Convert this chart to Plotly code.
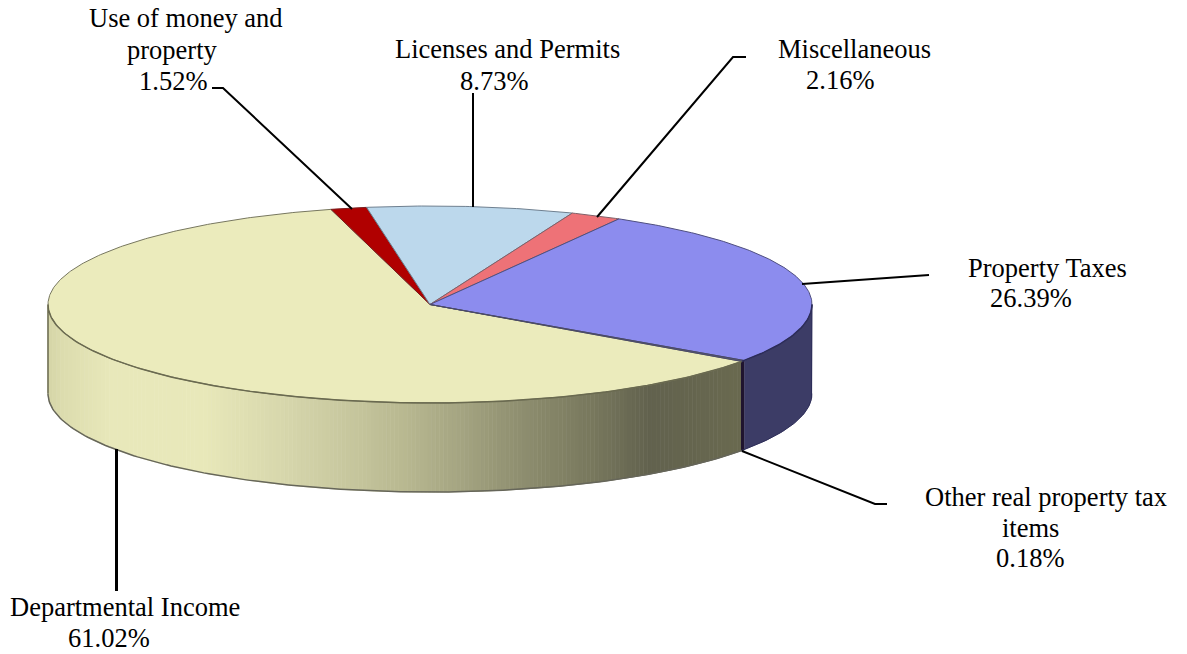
import numpy as np
import plotly.graph_objects as go

# ---- data ----
categories = ["Departmental Income", "Use of money and property", "Licenses and Permits",
              "Miscellaneous", "Property Taxes", "Other real property tax items"]
values = [61.02, 1.52, 8.73, 2.16, 26.39, 0.18]
top_colors = ["#ebebbc", "#b00000", "#bcd8ec", "#ee7277", "#8c8cee", "#5a5a80"]
edge_colors = ["#77775f", "#7a2020", "#6f8090", "#806068", "#4f4f80", "#4a4a66"]
wall_colors = ["#ebebbc", "#700000", "#7a8a96", "#8a4a4c", "#3c3c66", "#201530"]

# wall shading of the largest slice, by horizontal position (0 = left edge, 1 = its right end)
shade_pos = [0.00, 0.02, 0.09, 0.22, 0.36, 0.507, 0.594, 0.68, 0.795, 0.867, 1.00]
shade_rgb = [(214, 214, 168), (220, 220, 174), (232, 232, 186), (233, 233, 186), (212, 212, 170),
             (186, 186, 146), (165, 165, 130), (143, 143, 112), (118, 118, 92), (98, 98, 78),
             (106, 106, 80)]

# text lines: (text, centre x, centre y)
label_lines = [
    ("Use of money and", 186, 18), ("property", 172, 50), ("1.52%", 173, 81),
    ("Licenses and Permits", 507, 49), ("8.73%", 494, 81),
    ("Miscellaneous", 854, 49), ("2.16%", 840, 80),
    ("Property Taxes", 1047.5, 268), ("26.39%", 1031, 298),
    ("Other real property tax", 1046, 497), ("items", 1030, 528), ("0.18%", 1030, 558),
    ("Departmental Income", 125, 607), ("61.02%", 109, 638),
]
# leader lines
leaders_x = [[212, 223, 352], [473, 473], [746, 733, 597], [929, 802], [887, 875, 742], [116.5, 116.5]]
leaders_y = [[88, 88, 209], [93, 207], [57, 57, 217], [275, 284], [504, 504, 451], [591, 449]]
leaders_w = [2, 2, 2, 2, 2, 3]

# ---- pie geometry ----
CX, CY, RX, RY, DEPTH = 430, 304.5, 382, 98.5, 89
START = 35.3  # degrees, clockwise on screen from the right


def ex(a):
    return CX + RX * np.cos(np.radians(a))


def ey(a):
    return CY + RY * np.sin(np.radians(a))


fig = go.Figure()


def poly(xs, ys, fill, line=None, w=1.0):
    fig.add_trace(go.Scatter(x=list(xs), y=list(ys), mode="lines", fill="toself", fillcolor=fill,
                             line=dict(color=line or fill, width=w), hoverinfo="skip", showlegend=False))


def curve(xs, ys, color, w):
    fig.add_trace(go.Scatter(x=list(xs), y=list(ys), mode="lines", line=dict(color=color, width=w),
                             hoverinfo="skip", showlegend=False))


fracs = np.array(values) / sum(values) * 360
starts = START + np.concatenate([[0], np.cumsum(fracs)[:-1]])
ends = starts + fracs


def shade(x, x0, x1):
    t = (x - x0) / (x1 - x0)
    c = [np.interp(t, shade_pos, [s[k] for s in shade_rgb]) for k in range(3)]
    return "rgb(%d,%d,%d)" % tuple(c)


# walls (visible part: 0..180 degrees, also 360..540)
for i in range(len(values)):
    for off in (0, 360):
        a0 = max(starts[i], off)
        a1 = min(ends[i], off + 180)
        if a1 <= a0:
            continue
        if i == 0:
            x0, x1 = ex(180), ex(a0)
            grid = np.degrees(np.arccos((np.linspace(x1, x0, 171) - CX) / RX))
            for g0, g1 in zip(grid[:-1], grid[1:]):
                seg = np.linspace(g0, g1, 3)
                poly(list(ex(seg)) + list(ex(seg[::-1])),
                     list(ey(seg)) + list(ey(seg[::-1]) + DEPTH),
                     shade((ex(g0) + ex(g1)) / 2, x0, x1), None, 1.0)
        else:
            seg = np.linspace(a0, a1, 40)
            poly(list(ex(seg)) + list(ex(seg[::-1])),
                 list(ey(seg)) + list(ey(seg[::-1]) + DEPTH),
                 wall_colors[i], wall_colors[i], 1.5 if fracs[i] < 2 else 0.5)

# top faces
for i in range(len(values)):
    seg = np.linspace(starts[i], ends[i], max(3, int(fracs[i] * 2)))
    poly([CX] + list(ex(seg)) + [CX], [CY] + list(ey(seg)) + [CY], top_colors[i], edge_colors[i], 1.0)

# outlines of the solid
seg = np.linspace(START, 180, 160)
curve([ex(180)] + list(ex(seg[::-1])), [ey(180) + DEPTH] + list(ey(seg[::-1])), "#6a6a50", 1.5)
curve(ex(seg), ey(seg) + DEPTH, "#66665a", 1.5)
seg = np.linspace(0, START, 40)
curve(ex(seg), ey(seg), "#2c2c58", 1.5)
curve([ex(0)] + list(ex(seg)), [ey(0)] + list(ey(seg) + DEPTH), "#2c2c58", 1.0)

# leader lines
for lx, ly, w in zip(leaders_x, leaders_y, leaders_w):
    curve(lx, ly, "black", w)

for text, x, y in label_lines:
    fig.add_annotation(x=x, y=y, text=text, showarrow=False, xanchor="center", yanchor="middle",
                       font=dict(family="Liberation Serif", size=26.5, color="black"))

fig.update_layout(width=1187, height=654, margin=dict(l=0, r=0, t=0, b=0),
                  paper_bgcolor="white", plot_bgcolor="white", showlegend=False,
                  xaxis=dict(range=[0, 1187], visible=False, fixedrange=True),
                  yaxis=dict(range=[654, 0], visible=False, fixedrange=True))

fig.write_html("out.html", config={"displayModeBar": False},
               post_script="document.body.style.margin='0';document.body.style.overflow='hidden';")
